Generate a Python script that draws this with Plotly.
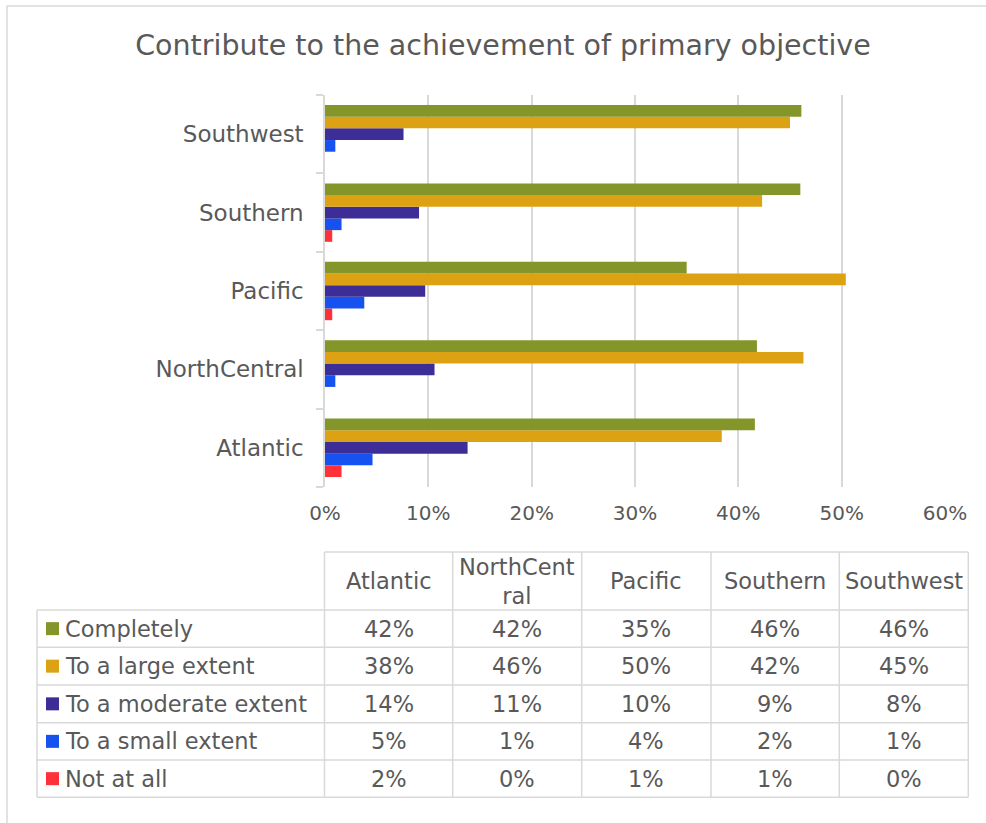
import plotly.graph_objects as go

# Regions (bottom to top on the chart, left to right in the table)
regions = ["Atlantic", "NorthCentral", "Pacific", "Southern", "Southwest"]
region_headers = ["Atlantic", "NorthCent<br>ral", "Pacific", "Southern", "Southwest"]

# Response levels, in table order
levels = ["Completely", "To a large extent", "To a moderate extent",
          "To a small extent", "Not at all"]

# Share of responses per level, per region (fractions)
completely = [0.416, 0.418, 0.350, 0.460, 0.461]
large_extent = [0.384, 0.463, 0.504, 0.423, 0.450]
moderate_extent = [0.138, 0.106, 0.097, 0.091, 0.076]
small_extent = [0.046, 0.010, 0.038, 0.016, 0.010]
not_at_all = [0.016, 0.000, 0.007, 0.007, 0.000]

series = [completely, large_extent, moderate_extent, small_extent, not_at_all]
colors = ["#84952A", "#DCA214", "#3D2D96", "#1652EF", "#FE3038"]

x_ticks = [0, 0.1, 0.2, 0.3, 0.4, 0.5, 0.6]

FONT = "DejaVu Sans"
TXT = "#595959"
GRID = "#D9D9D9"

W, H = 986, 823
L, R, T, B = 325, 945, 95, 487  # plot area in pixels


def px(x):
    return (x - L) / (R - L)


def py(y):
    return (B - y) / (B - T)


fig = go.Figure()

# Add in reverse so "Completely" sits at the top of each group
for name, vals, col in reversed(list(zip(levels, series, colors))):
    fig.add_trace(go.Bar(
        y=regions, x=vals, name=name, orientation="h",
        marker=dict(color=col, line=dict(width=0)),
        hovertemplate="%{y}: %{x:.0%}<extra>" + name + "</extra>",
    ))

fig.update_layout(
    width=W, height=H,
    margin=dict(l=L, r=W - R, t=T, b=H - B),
    paper_bgcolor="white", plot_bgcolor="white",
    barmode="group", bargap=0.255, bargroupgap=0,
    showlegend=False,
    font=dict(family=FONT, color=TXT),
    title=dict(text="Contribute to the achievement of primary objective",
               x=503 / W, xref="container", xanchor="center",
               y=1 - 45 / H, yref="container", yanchor="middle",
               font=dict(size=28.5, color=TXT, family=FONT)),
    xaxis=dict(range=[0, 0.6], tickvals=x_ticks, tickformat=".0%",
               showgrid=True, gridcolor=GRID, gridwidth=1.5,
               zeroline=False, showline=False, ticks="",
               tickfont=dict(size=20, color=TXT), ticklabelstandoff=12),
    yaxis=dict(categoryorder="array", categoryarray=regions,
               showline=True, linecolor=GRID, linewidth=1.5,
               ticks="outside", tickson="boundaries", ticklen=7,
               tickcolor=GRID, tickwidth=1.5, showgrid=False,
               tickfont=dict(size=23, color=TXT), ticklabelstandoff=15),
)

shapes = []
annotations = []

# Outer frame
shapes.append(dict(type="rect", xref="paper", yref="paper",
                   x0=px(7), x1=px(995), y0=py(830), y1=py(6),
                   line=dict(color=GRID, width=1.5), layer="below"))

# Data table grid
col_x = [324.5, 452.7, 581.7, 711.0, 839.3, 968.3]
left_x = 37.0
head_top = 552.0
row_y = [610.0, 647.3, 685.0, 722.7, 760.0, 797.3]


def hline(y, x0, x1):
    shapes.append(dict(type="line", xref="paper", yref="paper",
                       x0=px(x0), x1=px(x1), y0=py(y), y1=py(y),
                       line=dict(color=GRID, width=1.5)))


def vline(x, y0, y1):
    shapes.append(dict(type="line", xref="paper", yref="paper",
                       x0=px(x), x1=px(x), y0=py(y0), y1=py(y1),
                       line=dict(color=GRID, width=1.5)))


hline(head_top, col_x[0], col_x[-1])
for y in row_y:
    hline(y, left_x, col_x[-1])
vline(left_x, row_y[0], row_y[-1])
for x in col_x:
    vline(x, head_top, row_y[-1])

TABLE_FONT = dict(size=22.5, color=TXT, family=FONT)

# Column headers
for i, hdr in enumerate(region_headers):
    cx = (col_x[i] + col_x[i + 1]) / 2
    annotations.append(dict(xref="paper", yref="paper", x=px(cx),
                            y=py((head_top + row_y[0]) / 2),
                            text=hdr, showarrow=False,
                            xanchor="center", yanchor="middle",
                            font=TABLE_FONT))

# Rows: legend key, level name, values
for r, (name, vals, col) in enumerate(zip(levels, series, colors)):
    cy = (row_y[r] + row_y[r + 1]) / 2
    shapes.append(dict(type="rect", xref="paper", yref="paper",
                       x0=px(46), x1=px(59), y0=py(cy + 6.5), y1=py(cy - 6.5),
                       fillcolor=col, line=dict(width=0)))
    annotations.append(dict(xref="paper", yref="paper", x=px(63), y=py(cy),
                            text=name, showarrow=False,
                            xanchor="left", yanchor="middle",
                            font=TABLE_FONT))
    for i, v in enumerate(vals):
        cx = (col_x[i] + col_x[i + 1]) / 2
        annotations.append(dict(xref="paper", yref="paper", x=px(cx), y=py(cy),
                                text=f"{round(v * 100):d}%", showarrow=False,
                                xanchor="center", yanchor="middle",
                                font=TABLE_FONT))

fig.update_layout(shapes=shapes, annotations=annotations)

fig.write_html("out.html")
